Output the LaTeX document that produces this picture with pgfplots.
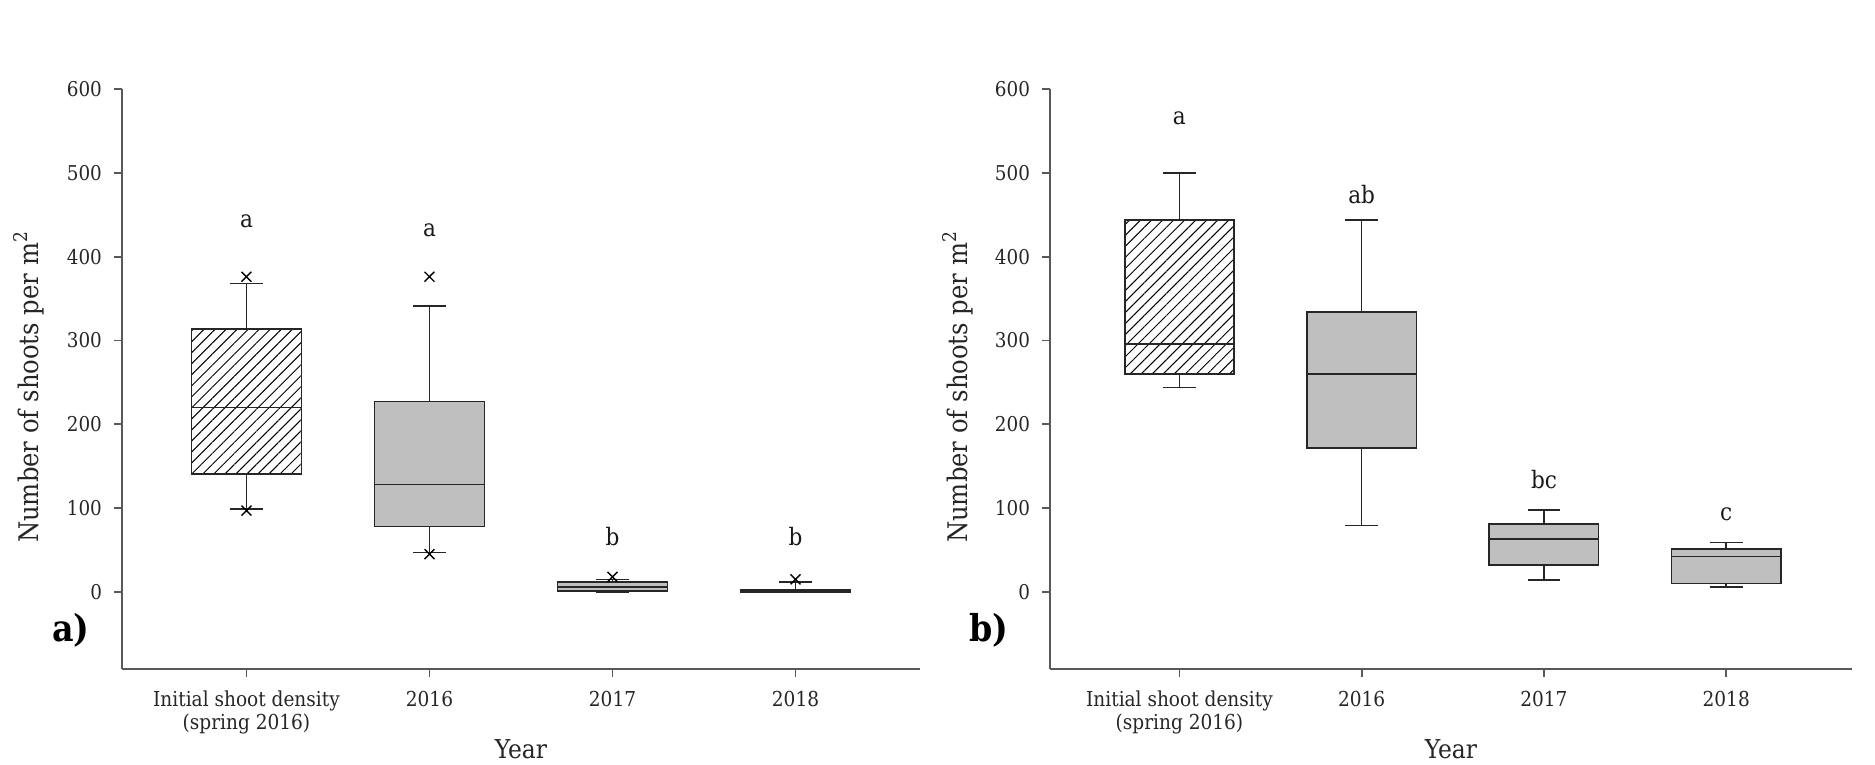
\documentclass[border=0pt]{standalone}
\usepackage{fontspec}
\setmainfont{DejaVu Serif Condensed}
\usepackage{pgfplots}
\pgfplotsset{compat=1.18}
\usepgfplotslibrary{statistics}
\usetikzlibrary{patterns.meta}

\tikzset{lett/.style={font=\fontsize{12}{12}\selectfont, text=black!90}}
\pgfplotsset{
  panel/.style={
    scale only axis,
    height=290pt,
    ymin=-92, ymax=600,
    ytick={0,100,200,300,400,500,600},
    xtick={0,1,2,3},
    xticklabels={{Initial shoot density\\(spring 2016)},2016,2017,2018},
    axis x line*=bottom, axis y line*=left,
    axis line style={-, black!65, line width=0.9pt},
    tick style={black!65, line width=0.9pt},
    major tick length=4pt,
    tick align=outside,
    x tick label style={align=center, font=\fontsize{10.3}{11.5}\selectfont, text=black!85, yshift=-3.5pt},
    y tick label style={font=\fontsize{10.2}{11}\selectfont, text=black!85, xshift=-2.5pt},
    /pgf/number format/assume math mode=true,
    clip=false,
    boxplot/draw direction=y,
    boxplot/box extend=0.6,
    boxplot/whisker extend=0.18,
  },
  gbox/.style={draw=black!85, line width=0.8pt, fill=black!25, mark=x, mark size=3.5pt, mark options={black, line width=0.7pt}},
  hbox/.style={draw=black!85, line width=0.8pt, pattern={Lines[angle=45,distance=3.9pt,line width=0.5pt]}, mark=x, mark size=3.5pt, mark options={black, line width=0.7pt}},
}

\begin{document}
\begin{tikzpicture}
\useasboundingbox (0,0) rectangle (937.5pt,382.5pt);

% ---------- panel a ----------
\begin{axis}[panel, at={(61pt,48pt)}, anchor=south west, width=399pt, xmin=-0.68, xmax=3.68]
\addplot[hbox, boxplot prepared={draw position=0, lower whisker=99, lower quartile=141, median=220, upper quartile=314, upper whisker=368}]
  table[row sep=\\, y index=0] {v\\ 376\\ 97\\};
\addplot[gbox, boxplot prepared={draw position=1, lower whisker=47, lower quartile=78, median=128, upper quartile=227, upper whisker=341}]
  table[row sep=\\, y index=0] {v\\ 376\\ 45\\};
\addplot[gbox, boxplot prepared={draw position=2, lower whisker=0, lower quartile=1, median=6, upper quartile=12, upper whisker=15}]
  table[row sep=\\, y index=0] {v\\ 18\\};
\addplot[gbox, boxplot prepared={draw position=3, lower whisker=0, lower quartile=0, median=2, upper quartile=3, upper whisker=12}]
  table[row sep=\\, y index=0] {v\\ 15\\};
\node[lett] at (axis cs:0,442) {a};
\node[lett] at (axis cs:1,431) {a};
\node[lett] at (axis cs:2,66) {b};
\node[lett] at (axis cs:3,66) {b};
\end{axis}

% ---------- panel b ----------
\begin{axis}[panel, at={(525pt,48pt)}, anchor=south west, width=401pt, xmin=-0.71, xmax=3.69]
\addplot[hbox, boxplot prepared={draw position=0, lower whisker=244, lower quartile=260, median=296, upper quartile=444, upper whisker=500}]
  coordinates {};
\addplot[gbox, boxplot prepared={draw position=1, lower whisker=79, lower quartile=172, median=260, upper quartile=334, upper whisker=444}]
  coordinates {};
\addplot[gbox, boxplot prepared={draw position=2, lower whisker=14, lower quartile=32, median=63, upper quartile=81, upper whisker=98}]
  coordinates {};
\addplot[gbox, boxplot prepared={draw position=3, lower whisker=6, lower quartile=10, median=42, upper quartile=51, upper whisker=59}]
  coordinates {};
\node[lett] at (axis cs:0,565) {a};
\node[lett] at (axis cs:1,474) {ab};
\node[lett] at (axis cs:2,134) {bc};
\node[lett] at (axis cs:3,93) {c};
\end{axis}

% ---------- labels ----------
\node[rotate=90, font=\fontsize{13.5}{13.5}\selectfont, text=black!85] at (14.5pt,189pt) {Number of shoots per m\textsuperscript{2}};
\node[rotate=90, font=\fontsize{13.5}{13.5}\selectfont, text=black!85] at (479pt,189pt) {Number of shoots per m\textsuperscript{2}};
\node[font=\fontsize{13}{13}\selectfont, text=black!85] at (260.5pt,8pt) {Year};
\node[font=\fontsize{13}{13}\selectfont, text=black!85] at (725.5pt,8pt) {Year};
\node[font=\fontsize{18.5}{18.5}\selectfont\bfseries] at (35.5pt,67.5pt) {a)};
\node[font=\fontsize{18.5}{18.5}\selectfont\bfseries] at (494.5pt,67.5pt) {b)};
\end{tikzpicture}
\end{document}
